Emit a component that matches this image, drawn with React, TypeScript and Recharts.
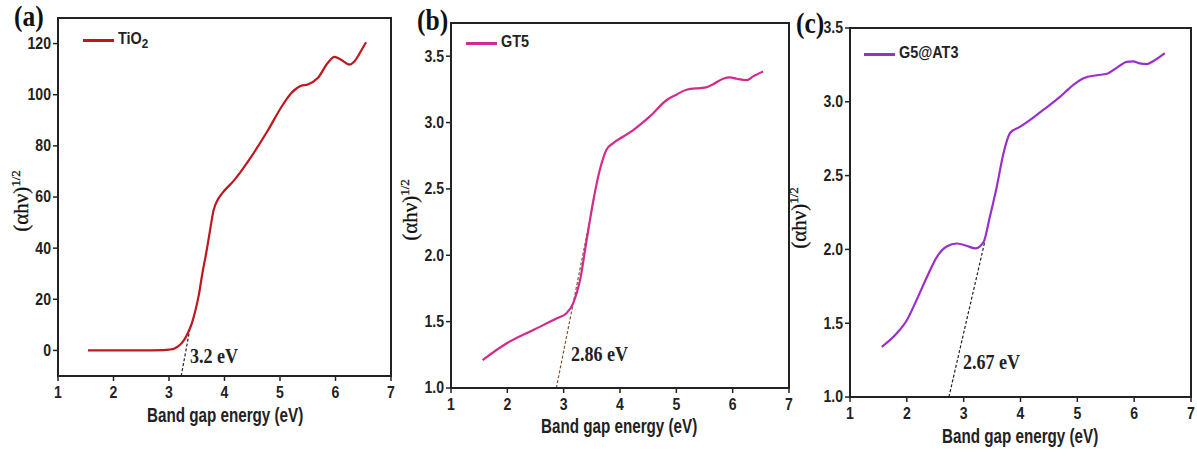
import React from "react"
import {
  LineChart,
  Line,
  XAxis,
  YAxis,
  ReferenceLine,
  Legend,
} from "recharts"

// band gap energy (eV) and (αhν)^1/2
const tio2X = [1.54, 2.0, 2.5, 2.9, 3.0, 3.1, 3.2, 3.27, 3.34, 3.41, 3.48, 3.54, 3.6, 3.67, 3.74, 3.8, 3.88, 3.96, 4.18, 4.48, 4.78, 5.02, 5.2, 5.38, 5.5, 5.68, 5.86, 5.98, 6.1, 6.25, 6.34, 6.43, 6.55]
const tio2Y = [0, 0, 0, 0.1, 0.3, 0.8, 2.2, 4, 6.8, 10.5, 16, 22, 30, 38, 47, 54.5, 59, 61.5, 66.7, 75.7, 86, 95, 100.6, 103.5, 104, 106.5, 112.4, 114.8, 113.7, 111.8, 113, 116, 120.5]

const gt5X = [1.56, 1.99, 2.46, 2.88, 3.05, 3.17, 3.29, 3.41, 3.53, 3.64, 3.76, 3.88, 4.06, 4.24, 4.53, 4.83, 5.0, 5.18, 5.42, 5.53, 5.66, 5.83, 5.95, 6.07, 6.25, 6.37, 6.54]
const gt5Y = [1.21, 1.337, 1.437, 1.525, 1.563, 1.64, 1.81, 2.12, 2.42, 2.64, 2.795, 2.845, 2.895, 2.945, 3.046, 3.17, 3.21, 3.247, 3.26, 3.265, 3.29, 3.33, 3.34, 3.33, 3.32, 3.35, 3.385]

const g5X = [1.56, 1.82, 2.0, 2.17, 2.35, 2.53, 2.7, 2.88, 3.05, 3.2, 3.35, 3.46, 3.58, 3.7, 3.82, 3.99, 4.17, 4.4, 4.7, 4.93, 5.11, 5.34, 5.52, 5.69, 5.87, 5.98, 6.1, 6.22, 6.34, 6.54]
const g5Y = [1.34, 1.43, 1.52, 1.656, 1.81, 1.95, 2.02, 2.04, 2.025, 2.007, 2.05, 2.22, 2.42, 2.65, 2.79, 2.83, 2.877, 2.945, 3.035, 3.115, 3.16, 3.18, 3.19, 3.23, 3.27, 3.274, 3.26, 3.255, 3.277, 3.33]

// tangent extrapolations [x1, y1, x2, y2]
const tio2Tangent = [3.22, -10, 3.39, 10]
const gt5Tangent = [2.87, 1.0, 3.55, 2.45]
const g5Tangent = [2.74, 1.0, 3.37, 2.05]

const xTicks = [1, 2, 3, 4, 5, 6, 7]
const tio2Ticks = [0, 20, 40, 60, 80, 100, 120]
const gtTicks = [1.0, 1.5, 2.0, 2.5, 3.0, 3.5]

const toRows = (xs: number[], ys: number[]) => xs.map((x, i) => ({ x, y: ys[i] }))

const sans = "'Liberation Sans', Arial, sans-serif"
const serif = "'Liberation Serif', 'Times New Roman', serif"

const H = 457
const X_AXIS_H = 30
const Y_AXIS_W = 40
const frame = { stroke: "#222", strokeWidth: 2 }

// condensed bold tick text (squeezed horizontally like the original)
function SqueezedTick(props: any) {
  const { x, y, payload, textAnchor, fmt, side } = props
  const label = fmt ? fmt(payload.value) : String(payload.value)
  const dy = side === "x" ? 15 : 5.5
  return (
    <text
      x={x}
      y={y + dy}
      textAnchor={textAnchor}
      fontFamily={sans}
      fontWeight={700}
      fontSize={16}
      fill="#222"
      transform={`translate(${x} 0) scale(0.88 1) translate(${-x} 0)`}
    >
      {label}
    </text>
  )
}

function Panel(props: {
  left: number
  width: number
  margin: { top: number; right: number; bottom: number; left: number }
  rows: { x: number; y: number }[]
  color: string
  name: React.ReactNode
  yDomain: [number, number]
  yTicks: number[]
  fmt: (v: number) => string
  tangent: number[]
  tangentColor: string
  legendPos: { left: number; top: number }
}) {
  const t = props.tangent
  const m = props.margin
  // plot box outline (top/right sides of the frame)
  const boxLeft = m.left + Y_AXIS_W
  const boxW = props.width - boxLeft - m.right
  const boxH = H - m.top - m.bottom - X_AXIS_H
  return (
    <div style={{ position: "absolute", left: props.left, top: 0, width: props.width, height: H }}>
      <div
        style={{
          position: "absolute",
          left: boxLeft - 1,
          top: m.top - 1,
          width: boxW + 2,
          height: boxH + 2,
          border: "2px solid #222",
          boxSizing: "border-box",
          pointerEvents: "none",
        }}
      />
      <LineChart width={props.width} height={H} data={props.rows} margin={m}>
        <XAxis
          type="number"
          dataKey="x"
          domain={[1, 7]}
          ticks={xTicks}
          height={X_AXIS_H}
          tick={<SqueezedTick side="x" />}
          tickSize={5}
          axisLine={frame}
          tickLine={{ stroke: "#222", strokeWidth: 1.5 }}
          allowDataOverflow
        />
        <YAxis
          type="number"
          domain={props.yDomain}
          ticks={props.yTicks}
          width={Y_AXIS_W}
          tick={<SqueezedTick side="y" fmt={props.fmt} />}
          tickSize={5}
          axisLine={frame}
          tickLine={{ stroke: "#222", strokeWidth: 1.5 }}
          allowDataOverflow
        />
        {/* middle/center so the legend reserves no space from the plot */}
        <Legend
          layout="horizontal"
          verticalAlign="middle"
          align="center"
          wrapperStyle={{ position: "absolute", left: props.legendPos.left, top: props.legendPos.top, width: 200 }}
          content={() => (
            <div style={{ position: "relative", height: 20, fontFamily: sans, fontWeight: 700, fontSize: 16, color: "#222" }}>
              <div style={{ position: "absolute", left: 0, top: 9, width: 31, height: 2.5, background: props.color }} />
              <div style={{ position: "absolute", left: 35, top: 0, transform: "scaleX(0.9)", transformOrigin: "left", whiteSpace: "nowrap" }}>
                {props.name}
              </div>
            </div>
          )}
        />
        <ReferenceLine
          segment={[{ x: t[0], y: t[1] }, { x: t[2], y: t[3] }]}
          stroke={props.tangentColor}
          strokeWidth={1.2}
          strokeDasharray="3 2"
        />
        <Line
          type="monotone"
          dataKey="y"
          stroke={props.color}
          strokeWidth={2.2}
          dot={false}
          isAnimationActive={false}
        />
      </LineChart>
    </div>
  )
}

const abs = (left: number, top: number, extra: React.CSSProperties = {}): React.CSSProperties => ({
  position: "absolute",
  left,
  top,
  whiteSpace: "nowrap",
  ...extra,
})

const xTitle: React.CSSProperties = { fontFamily: sans, fontWeight: 700, fontSize: 20, color: "#222", transform: "scaleX(0.76)", transformOrigin: "left" }
const letter: React.CSSProperties = { fontFamily: serif, fontWeight: 700, fontSize: 29, color: "#111", transform: "scaleX(0.88)", transformOrigin: "left" }
const gapText: React.CSSProperties = { fontFamily: serif, fontWeight: 700, fontSize: 22, color: "#222", transform: "scaleX(0.82)", transformOrigin: "left" }

function YTitle({ cx, cy }: { cx: number; cy: number }) {
  return (
    <div style={abs(cx - 50, cy - 14, { width: 100, height: 28, textAlign: "center", transform: "rotate(-90deg)", fontFamily: serif, fontSize: 21, color: "#111", WebkitTextStroke: "0.3px #111" })}>
      (αhν)<sup style={{ fontSize: 13 }}>1/2</sup>
    </div>
  )
}

export default function App() {
  return (
    <div style={{ position: "absolute", left: 0, top: 0, width: 1197, height: H, background: "#fff", overflow: "hidden" }}>
      <Panel
        left={0}
        width={400}
        margin={{ top: 18, right: 9, bottom: 51, left: 18 }}
        rows={toRows(tio2X, tio2Y)}
        color="#c0161e"
        name={<span>TiO<sub style={{ fontSize: 13 }}>2</sub></span>}
        yDomain={[-10, 130]}
        yTicks={tio2Ticks}
        fmt={(v) => String(v)}
        tangent={tio2Tangent}
        tangentColor="#222"
        legendPos={{ left: 83, top: 30 }}
      />
      <Panel
        left={400}
        width={400}
        margin={{ top: 23, right: 11, bottom: 39, left: 11 }}
        rows={toRows(gt5X, gt5Y)}
        color="#d42a8c"
        name="GT5"
        yDomain={[1, 3.75]}
        yTicks={gtTicks}
        fmt={(v) => v.toFixed(1)}
        tangent={gt5Tangent}
        tangentColor="#7a5a2a"
        legendPos={{ left: 66, top: 33 }}
      />
      <Panel
        left={790}
        width={407}
        margin={{ top: 28, right: 6, bottom: 30, left: 20 }}
        rows={toRows(g5X, g5Y)}
        color="#9a2fcc"
        name="G5@AT3"
        yDomain={[1, 3.5]}
        yTicks={gtTicks}
        fmt={(v) => v.toFixed(1)}
        tangent={g5Tangent}
        tangentColor="#222"
        legendPos={{ left: 74, top: 44 }}
      />

      <div style={abs(14, 0, letter)}>(a)</div>
      <div style={abs(417, 4, letter)}>(b)</div>
      <div style={abs(796, 7, letter)}>(c)</div>

      <YTitle cx={22} cy={201} />
      <YTitle cx={411} cy={210} />
      <YTitle cx={800} cy={218} />

      <div style={abs(147, 404, xTitle)}>Band gap energy (eV)</div>
      <div style={abs(541, 415, xTitle)}>Band gap energy (eV)</div>
      <div style={abs(942, 425, xTitle)}>Band gap energy (eV)</div>

      <div style={abs(190, 343, gapText)}>3.2 eV</div>
      <div style={abs(571, 341, gapText)}>2.86 eV</div>
      <div style={abs(963, 349, gapText)}>2.67 eV</div>
    </div>
  )
}
